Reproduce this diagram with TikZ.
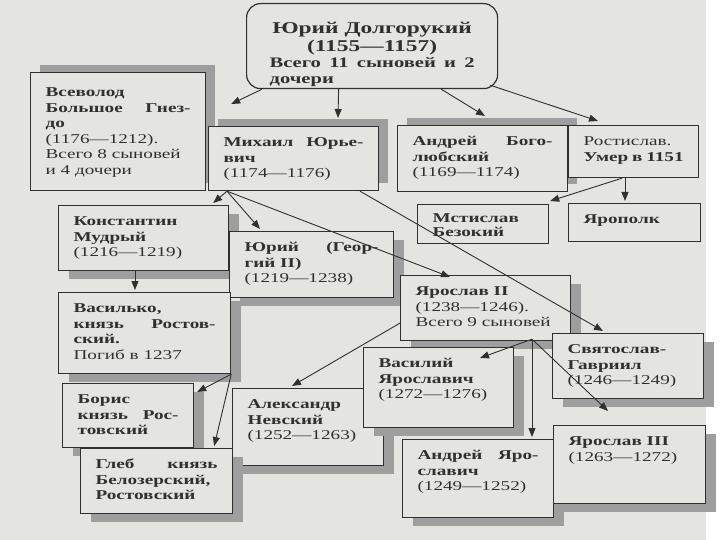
\documentclass[tikz,border=0pt]{standalone}
\usepackage{fontspec}
\setmainfont[FakeStretch=1.42]{Liberation Serif}
\usetikzlibrary{arrows.meta,shadows,calc}
\definecolor{paper}{RGB}{228,228,224}
\definecolor{ink}{RGB}{48,48,48}
\tikzset{
 famb/.style={draw=ink,line width=1.2pt,fill=paper,text=ink,anchor=north west,inner xsep=0pt,inner ysep=6pt,align=justify,text height=14pt,font=\fontsize{13.5}{15.5}\selectfont},
 shup/.style={general shadow={fill=black!38,shadow xshift=9pt,shadow yshift=8pt}},
 shdn/.style={general shadow={fill=black!38,shadow xshift=10pt,shadow yshift=-8pt}},
 arr/.style={draw=ink,line width=0.9pt,-{Triangle[length=9pt,width=7pt]}}
}
\begin{document}
\begin{tikzpicture}[x=1pt,y=-1pt]
\useasboundingbox (0,0) rectangle (720,540);
\fill[paper] (0,0) rectangle (706,540);
% top of the tree
\node[famb,rounded corners=14pt,minimum width=251pt,minimum height=85pt,text width=205pt,text height=24pt,text depth=49pt,font=\bfseries\fontsize{14.5}{16}\selectfont] (yuri) at (246,3)
 {{\centering\fontsize{16.5}{18}\selectfont Юрий Долгорукий\\ (1155—1157)\par}Всего 11 сыновей и 2\linebreak дочери};
% sons
\node[famb,shup,minimum width=175pt,minimum height=118pt,text width=145pt,text height=18pt,text depth=88pt] (vsevolod) at (30,72)
 {\textbf{Всеволод}\\ \textbf{Большое Гнез-}\linebreak \textbf{до}\\ (1176—1212).\\ Всего 8 сыновей\\ и 4 дочери};
\node[famb,shup,minimum width=170pt,minimum height=64pt,text width=140pt,text depth=38pt] (mikhail) at (208,126)
 {\textbf{Михаил Юрье-}\linebreak \textbf{вич}\\ (1174—1176)};
\node[famb,shup,minimum width=170pt,minimum height=66pt,text width=140pt,text depth=40pt] (andrey) at (397,125)
 {\textbf{Андрей Бого-}\linebreak \textbf{любский}\\ (1169—1174)};
\node[famb,minimum width=130pt,minimum height=52pt,text width=100pt,text depth=26pt] (rostislav) at (568,125)
 {Ростислав.\\ \textbf{Умер в 1151}};
\node[famb,minimum width=131pt,minimum height=39pt,text width=101pt,text height=12pt,text depth=15pt,inner ysep=6pt,font=\fontsize{13.5}{14}\selectfont] (mstislav) at (417,204)
 {\textbf{Мстислав}\\ \textbf{Безокий}};
\node[famb,minimum width=132pt,minimum height=38pt,text width=102pt,text depth=12pt] (yaropolk) at (568,203)
 {\textbf{Ярополк}};
% grandsons
\node[famb,shdn,minimum width=170pt,minimum height=65pt,text width=140pt,text depth=39pt] (konstantin) at (58,205)
 {\textbf{Константин}\\ \textbf{Мудрый}\\ (1216—1219)};
\node[famb,shdn,minimum width=164pt,minimum height=66pt,text width=134pt,text depth=40pt] (yurii) at (229,231)
 {\textbf{Юрий (Геор-}\linebreak \textbf{гий II)}\\ (1219—1238)};
\node[famb,shdn,minimum width=170pt,minimum height=65pt,text width=140pt,text depth=39pt] (yaroslav) at (400,275)
 {\textbf{Ярослав II}\\ (1238—1246).\\ Всего 9 сыновей};
\node[famb,shdn,minimum width=172pt,minimum height=81pt,text width=142pt,text depth=55pt] (vasilko) at (58,292)
 {\textbf{Василько,}\\ \textbf{князь Ростов-}\linebreak \textbf{ский.}\\ Погиб в 1237};
\node[famb,shdn,minimum width=151pt,minimum height=65pt,text width=121pt,text depth=39pt] (svyatoslav) at (552,333)
 {\textbf{Святослав-}\\ \textbf{Гавриил}\\ (1246—1249)};
\node[famb,shdn,minimum width=131pt,minimum height=64pt,text width=101pt,text depth=38pt] (boris) at (62,383)
 {\textbf{Борис}\\ \textbf{князь Рос-}\linebreak \textbf{товский}};
\node[famb,shdn,minimum width=151pt,minimum height=77pt,text width=121pt,text depth=51pt] (aleksandr) at (232,388)
 {\textbf{Александр}\\ \textbf{Невский}\\ (1252—1263)};
\node[famb,shdn,minimum width=150pt,minimum height=80pt,text width=120pt,text depth=54pt] (vasily) at (363,347)
 {\textbf{Василий}\\ \textbf{Ярославич}\\ (1272—1276)};
\node[famb,shdn,minimum width=152pt,minimum height=65pt,text width=122pt,text depth=39pt] (gleb) at (80,448)
 {\textbf{Глеб князь}\linebreak \textbf{Белозерский,}\\ \textbf{Ростовский}};
\node[famb,shdn,minimum width=151pt,minimum height=78pt,text width=121pt,text depth=52pt] (andreyyar) at (402,439)
 {\textbf{Андрей Яро-}\linebreak \textbf{славич}\\ (1249—1252)};
\node[famb,shdn,minimum width=152pt,minimum height=78pt,text width=122pt,text depth=52pt] (yaroslavthree) at (553,425)
 {\textbf{Ярослав III}\\ (1263—1272)};
% arrows
\coordinate (ms) at ([xshift=19pt]mikhail.south west);
\coordinate (ys) at ([xshift=132pt,yshift=2pt]yaroslav.south west);
\draw[arr] ([xshift=16pt]yuri.south west) -- ([xshift=25pt,yshift=-32pt]vsevolod.north east);
\draw[arr] ([xshift=-33.5pt]yuri.south) -- ([xshift=130pt,yshift=8pt]mikhail.north west);
\draw[arr] ([xshift=-57pt]yuri.south east) -- ([xshift=88pt,yshift=9pt]andrey.north west);
\draw[arr] ([xshift=-8pt,yshift=4pt]yuri.south east) -- ([xshift=30pt,yshift=4pt]rostislav.north west);
\draw[arr] ([xshift=57pt]rostislav.south west) -- ([xshift=57pt,yshift=2pt]yaropolk.north west);
\draw[arr] ([xshift=54pt]rostislav.south west) -- ([xshift=1pt,yshift=3pt]mstislav.north east);
\draw[arr] (ms) -- ([xshift=-16pt,yshift=2pt]konstantin.north east);
\draw[arr] (ms) -- ([xshift=31pt,yshift=2pt]yurii.north west);
\draw[arr] (ms) -- ([xshift=50pt,yshift=-2pt]yaroslav.north west);
\draw[arr] ([xshift=152pt]mikhail.south west) -- ([xshift=51pt,yshift=2pt]svyatoslav.north west);
\draw[arr] ([xshift=77pt]konstantin.south west) -- ([xshift=77pt,yshift=2pt]vasilko.north west);
\draw[arr] (vasilko.south east) -- ([xshift=3pt,yshift=-9pt]boris.north east);
\draw[arr] (vasilko.south east) -- ([xshift=-19pt,yshift=2pt]gleb.north east);
\draw[arr] ([yshift=-15pt]yaroslav.west) -- ([xshift=60pt,yshift=2pt]aleksandr.north west);
\draw[arr] (ys) -- ([xshift=117pt,yshift=-11pt]vasily.north west);
\draw[arr] (ys) -- ([xshift=130pt,yshift=2pt]andreyyar.north west);
\draw[arr] (ys) -- ([xshift=55pt,yshift=14pt]yaroslavthree.north west);
\end{tikzpicture}
\end{document}
